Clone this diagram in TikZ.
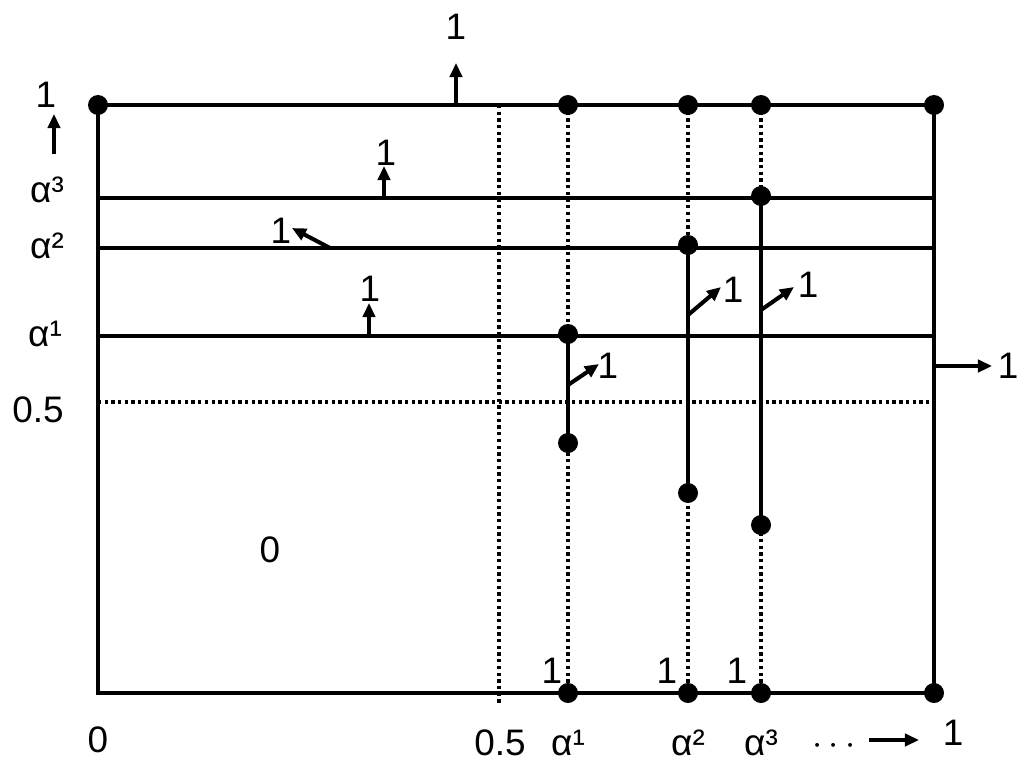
\documentclass[tikz,border=0pt]{standalone}
\usepackage{fontspec}
\setmainfont{Liberation Sans}
\usetikzlibrary{arrows.meta}
\begin{document}
\begin{tikzpicture}[x=0.02cm,y=-0.02cm,
  frame/.style={line width=1.8pt},
  dotline/.style={line width=1.9pt,dash pattern=on 1.9pt off 1.9pt},
  seg/.style={line width=2.3pt},
  arr/.style={line width=2.3pt,-{Triangle[length=8pt,width=7pt]}},
  pt/.style={circle,fill=black,inner sep=0pt,minimum size=0.4cm},
  lab/.style={inner sep=0pt,font=\fontsize{21}{25}\selectfont}]
\useasboundingbox (0,0) rectangle (1024,771);
% corners and frame
\coordinate (TL) at (98,105); \coordinate (TR) at (934,105);
\coordinate (BL) at (98,693); \coordinate (BR) at (934,693);
% horizontal alpha lines
\coordinate (a3L) at (98,198); \coordinate (a3R) at (934,198);
\coordinate (a2L) at (98,248); \coordinate (a2R) at (934,248);
\coordinate (a1L) at (98,336); \coordinate (a1R) at (934,336);
\coordinate (hL) at (98,402); \coordinate (hR) at (934,402);
\draw[frame] (a3L) -- (a3R);
\draw[frame] (a2L) -- (a2R);
\draw[frame] (a1L) -- (a1R);
\draw[dotline] (hL) -- (hR);
% vertical dotted lines
\coordinate (v0T) at (499,105); \coordinate (v0B) at (499,705);
\draw[dotline] (v0T) -- (v0B);
\coordinate (v1T) at (568,105); \coordinate (v1B) at (568,693);
\coordinate (v2T) at (688,105); \coordinate (v2B) at (688,693);
\coordinate (v3T) at (761,105); \coordinate (v3B) at (761,693);
\draw[dotline] (v1T) -- (v1B);
\draw[dotline] (v2T) -- (v2B);
\draw[dotline] (v3T) -- (v3B);
\draw[frame] (TL) -- (TR) -- (BR) -- (BL) -- cycle;
% solid vertical segments
\node[pt] (s1a) at (568,334) {};
\node[pt] (s1b) at (568,443) {};
\node[pt] (s2a) at (688,245) {};
\node[pt] (s2b) at (688,493) {};
\node[pt] (s3a) at (761,196) {};
\node[pt] (s3b) at (761,525) {};
\draw[seg] (s1a.center) -- (s1b.center);
\draw[seg] (s2a.center) -- (s2b.center);
\draw[seg] (s3a.center) -- (s3b.center);
% corner / top / bottom dots
\node[pt] (pTL) at (TL) {};
\node[pt] (pT1) at (v1T) {};
\node[pt] (pT2) at (v2T) {};
\node[pt] (pT3) at (v3T) {};
\node[pt] (pTR) at (TR) {};
\node[pt] (pB1) at (v1B) {};
\node[pt] (pB2) at (v2B) {};
\node[pt] (pB3) at (v3B) {};
\node[pt] (pBR) at (BR) {};
% arrows with labels
\coordinate (t0) at (456,105); \coordinate (t1) at (456,63);
\draw[arr] (t0) -- (t1);
\node[lab] (lt) at (456,27) {1};
\coordinate (a3s) at (384,198); \coordinate (a3e) at (384,166);
\draw[arr] (a3s) -- (a3e);
\node[lab] (la3) at (386,153) {1};
\coordinate (a2s) at (330,248); \coordinate (a2e) at (292,228);
\draw[arr] (a2s) -- (a2e);
\node[lab] (la2) at (281,231) {1};
\coordinate (a1s) at (369,336); \coordinate (a1e) at (369,303);
\draw[arr] (a1s) -- (a1e);
\node[lab] (la1) at (370,289) {1};
\coordinate (b1s) at (568,385); \coordinate (b1e) at (599,364);
\draw[arr] (b1s) -- (b1e);
\node[lab] (lb1) at (608,366) {1};
\coordinate (b2s) at (688,315); \coordinate (b2e) at (721,287);
\draw[arr] (b2s) -- (b2e);
\node[lab] (lb2) at (733,290) {1};
\coordinate (b3s) at (761,310); \coordinate (b3e) at (794,287);
\draw[arr] (b3s) -- (b3e);
\node[lab] (lb3) at (808,285) {1};
\coordinate (rs) at (934,366); \coordinate (re) at (992,366);
\draw[arr] (rs) -- (re);
\node[lab] (lr) at (1008,366) {1};
\coordinate (ls) at (54,154); \coordinate (le) at (54,114);
\draw[arr] (ls) -- (le);
\node[lab] (ll) at (46,95) {1};
% left labels
\node[lab] (ya3) at (47,190) {α³};
\node[lab] (ya2) at (47,246) {α²};
\node[lab] (ya1) at (45,334) {α¹};
\node[lab] (yh) at (38,410) {0.5};
% bottom labels
\node[lab] (x0) at (98,740) {0};
\node[lab] (xh) at (500,743) {0.5};
\node[lab] (xa1) at (568,743) {α¹};
\node[lab] (xa2) at (688,743) {α²};
\node[lab] (xa3) at (761,743) {α³};
\node[lab] (xd) at (834,746) {$\cdots$};
\coordinate (xas) at (869,740); \coordinate (xae) at (919,740);
\draw[line width=1.8pt,-{Triangle[length=8pt,width=7pt]}] (xas) -- (xae);
\node[lab] (x1) at (953,733) {1};
% ones near bottom dots
\node[lab] (o1) at (552,671) {1};
\node[lab] (o2) at (667,671) {1};
\node[lab] (o3) at (737,671) {1};
% zero region
\node[lab] (z) at (270,550) {0};
\end{tikzpicture}
\end{document}
